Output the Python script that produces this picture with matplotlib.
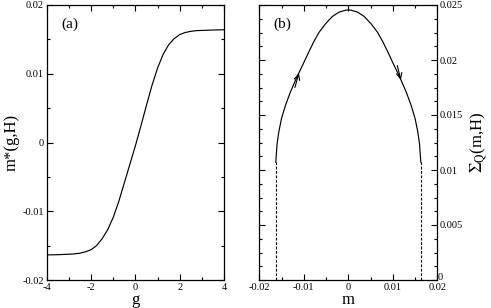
import matplotlib
matplotlib.use("Agg")
import matplotlib.pyplot as plt
import matplotlib.transforms as mtransforms
from matplotlib.ticker import MultipleLocator

# panel (a): m*(g,H)
g_vals = [-4, -3.5, -3, -2.75, -2.5, -2.25, -2, -1.75, -1.5, -1.25, -1, -0.75,
          -0.5, -0.25, 0, 0.25, 0.5, 0.75, 1, 1.25, 1.5, 1.75, 2, 2.25, 2.5,
          2.75, 3, 3.5, 4]
m_star = [-0.01635, -0.01632, -0.01625, -0.0162, -0.0161, -0.0159, -0.0156,
          -0.0150, -0.0140, -0.0127, -0.0109, -0.0086, -0.0059, -0.0032,
          -0.0005, 0.0024, 0.0054, 0.0083, 0.0108, 0.0128, 0.0142, 0.0151,
          0.0157, 0.0160, 0.01617, 0.01627, 0.0163, 0.01636, 0.0164]

# panel (b): Sigma_Q(m,H)
m_vals = [-0.0163, -0.0160, -0.0156, -0.0150, -0.0141, -0.0130, -0.0115,
          -0.0103, -0.0088, -0.0077, -0.0066, -0.0051, -0.0036, -0.0021,
          -0.0006, 0.0, 0.0006, 0.0021, 0.0036, 0.0051, 0.0066, 0.0077,
          0.0088, 0.0103, 0.0115, 0.0130, 0.0141, 0.0150, 0.0156, 0.0160,
          0.0163]
sigma_q = [0.0107, 0.0124, 0.0135, 0.0147, 0.0159, 0.0171, 0.0185, 0.0195,
           0.0208, 0.0217, 0.0225, 0.0233, 0.02395, 0.02435, 0.02453, 0.02455,
           0.02453, 0.02435, 0.02395, 0.0233, 0.0225, 0.0217, 0.0208, 0.0195,
           0.0185, 0.0171, 0.0159, 0.0147, 0.0135, 0.0124, 0.0107]
m_edge = [-0.0163, 0.0163]
sigma_edge = 0.0107

plt.rcParams["font.family"] = ["Liberation Serif", "DejaVu Serif"]
plt.rcParams["mathtext.fontset"] = "stix"

fig = plt.figure(figsize=(4.91, 3.08), dpi=100)
ax_a = fig.add_axes([46.7 / 491, 28 / 308, 177.3 / 491, 275 / 308])
ax_b = fig.add_axes([259.3 / 491, 28 / 308, 178 / 491, 275 / 308])


def style_axes(ax):
    ax.tick_params(which="both", direction="in", top=True, right=True,
                   labelsize=7.5, width=0.8, pad=2)
    ax.tick_params(which="major", length=4)
    ax.tick_params(which="minor", length=2.5)
    for spine in ax.spines.values():
        spine.set_linewidth(0.9)


ax_a.plot(g_vals, m_star, color="black", lw=0.85)
ax_a.set_xlim(-4, 4)
ax_a.set_ylim(-0.02, 0.02)
ax_a.set_xticks([-4, -2, 0, 2, 4])
ax_a.set_xticklabels(["-4", "-2", "0", "2", "4"])
ax_a.xaxis.set_minor_locator(MultipleLocator(1))
ax_a.set_yticks([-0.02, -0.01, 0, 0.01, 0.02])
ax_a.set_yticklabels(["-0.02", "-0.01", "0", "0.01", "0.02"])
ax_a.yaxis.set_minor_locator(MultipleLocator(0.005))
style_axes(ax_a)
ax_a.set_xlabel("g", fontsize=12, labelpad=0)
ax_a.set_ylabel("m*(g,H)", fontsize=12, labelpad=2)
ax_a.text(0.08, 0.93, "(a)", transform=ax_a.transAxes, fontsize=11, va="center")

ax_b.plot(m_vals, sigma_q, color="black", lw=0.85)
for m in m_edge:
    ax_b.plot([m, m], [0, sigma_edge], color="black", lw=0.8, ls=(0, (2.5, 1.5)))
arrow_style = dict(arrowstyle="->", lw=0.8, mutation_scale=10, shrinkA=0, shrinkB=0)
ax_b.annotate("", xy=(m_vals[6] + 0.0004, sigma_q[6] + 0.0003),
              xytext=(m_vals[6] - 0.0005, sigma_q[6] - 0.0010),
              arrowprops=arrow_style)
ax_b.annotate("", xy=(m_vals[24] + 0.0003, sigma_q[24] - 0.0003),
              xytext=(m_vals[24] - 0.0005, sigma_q[24] + 0.0010),
              arrowprops=arrow_style)
ax_b.set_xlim(-0.02, 0.02)
ax_b.set_ylim(0, 0.025)
ax_b.set_xticks([-0.02, -0.01, 0, 0.01, 0.02])
ax_b.set_xticklabels(["-0.02", "-0.01", "0", "0.01", "0.02"])
ax_b.xaxis.set_minor_locator(MultipleLocator(0.005))
ax_b.set_yticks([0, 0.005, 0.01, 0.015, 0.02, 0.025])
ax_b.set_yticklabels(["0", "0.005", "0.01", "0.015", "0.02", "0.025"])
ax_b.yaxis.set_minor_locator(MultipleLocator(0.00125))
style_axes(ax_b)
ax_b.tick_params(labelleft=False, labelright=True)
ax_b.yaxis.set_label_position("right")
ax_b.set_xlabel("m", fontsize=12, labelpad=0)
ax_b.set_ylabel(r"$\Sigma_{\mathrm{Q}}$(m,H)", fontsize=12, labelpad=4)
ax_b.text(0.08, 0.93, "(b)", transform=ax_b.transAxes, fontsize=11, va="center")

# the "0" on the right axis sits a little above the "0.02" below it
zero_label = ax_b.yaxis.get_majorticklabels()[0]
zero_label.set_transform(zero_label.get_transform()
                         + mtransforms.ScaledTranslation(-2 / 100, 3 / 100,
                                                         fig.dpi_scale_trans))

fig.savefig("out.png", dpi=100)
